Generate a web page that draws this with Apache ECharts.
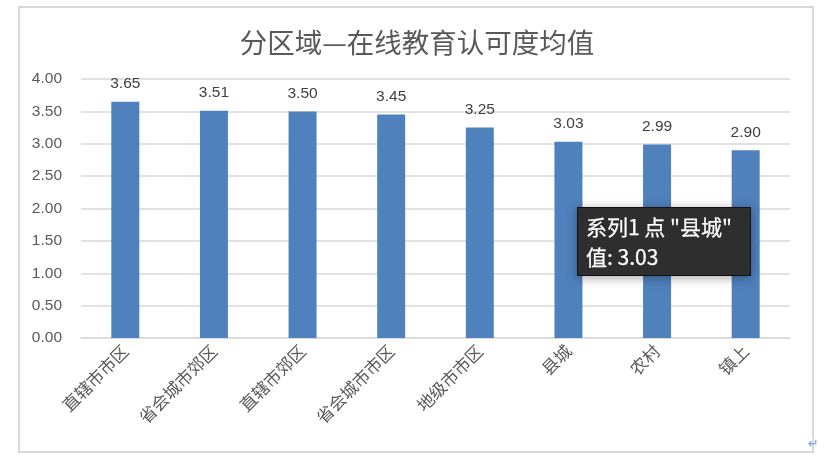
<!DOCTYPE html>
<html>
<head>
<meta charset="utf-8">
<script src="https://cdn.jsdelivr.net/npm/echarts@6/dist/echarts.min.js"></script>
<style>
html,body{margin:0;padding:0;background:#fff;}
#chart{width:834px;height:462px;}
</style>
</head>
<body>
<div id="chart"></div>
<script>
var categories = ['直辖市市区','省会城市郊区','直辖市郊区','省会城市市区','地级市市区','县城','农村','镇上'];
var values = [3.65, 3.51, 3.50, 3.45, 3.25, 3.03, 2.99, 2.90];
var seriesName = '系列1';
var titleText = '分区域—在线教育认可度均值';
var tipIndex = 5;

var chart = echarts.init(document.getElementById('chart'));
var font = '"Liberation Sans","Noto Sans CJK SC",sans-serif';
chart.setOption({
  animation: false,
  title: {
    text: titleText, left: 'center', top: 24,
    textStyle: {fontFamily: '"Noto Sans CJK SC",sans-serif', fontSize: 27.5, fontWeight: 'normal', color: '#595959'}
  },
  grid: {left: 81, right: 44, top: 79, bottom: 124},
  tooltip: {
    trigger: 'item',
    alwaysShowContent: true,
    showContent: true,
    transitionDuration: 0,
    backgroundColor: '#2e2e2e',
    borderColor: '#111',
    borderWidth: 1,
    borderRadius: 0,
    padding: [3, 18, 4, 8],
    extraCssText: 'box-shadow:0 2px 10px rgba(0,0,0,0.35);line-height:30px;-webkit-text-stroke:0.25px #fff;',
    textStyle: {color: '#fff', fontSize: 21, fontFamily: '"Noto Sans CJK SC",sans-serif'},
    position: function(){ return [577, 207]; },
    formatter: function(p){
      return p.seriesName + ' 点 "' + p.name + '"<br/>值: ' + p.value.toFixed(2);
    }
  },
  xAxis: {
    type: 'category', data: categories,
    axisLine: {lineStyle: {color: '#d9d9d9', width: 1.5}},
    axisTick: {show: false},
    axisLabel: {rotate: 45, fontSize: 17, color: '#595959', fontFamily: '"Noto Sans CJK SC",sans-serif', margin: 10}
  },
  yAxis: {
    type: 'value', min: 0, max: 4, interval: 0.5,
    axisLine: {show: false}, axisTick: {show: false},
    splitLine: {lineStyle: {color: '#d9d9d9', width: 1.5}},
    axisLabel: {fontSize: 15.5, color: '#595959', fontFamily: font, margin: 19,
      formatter: function(v){ return v.toFixed(2); }}
  },
  series: [{
    name: seriesName, type: 'bar', data: values, barWidth: '31.6%',
    itemStyle: {color: '#4f81bd'},
    label: {show: true, position: 'top', distance: 10, fontSize: 15.5, color: '#404040', fontFamily: font,
      formatter: function(p){ return p.value.toFixed(2); }}
  }],
  graphic: [
    {type: 'rect', shape: {x: 19, y: 7, width: 794, height: 445}, style: {fill: 'none', stroke: '#d9d9d9', lineWidth: 2}, silent: true},
    {type: 'text', left: 808, top: 438, style: {text: '↵', fontSize: 13, fill: '#6a9fd8', fontFamily: '"DejaVu Sans",sans-serif'}, silent: true}
  ]
});
chart.dispatchAction({type: 'showTip', seriesIndex: 0, dataIndex: tipIndex});
</script>
</body>
</html>
